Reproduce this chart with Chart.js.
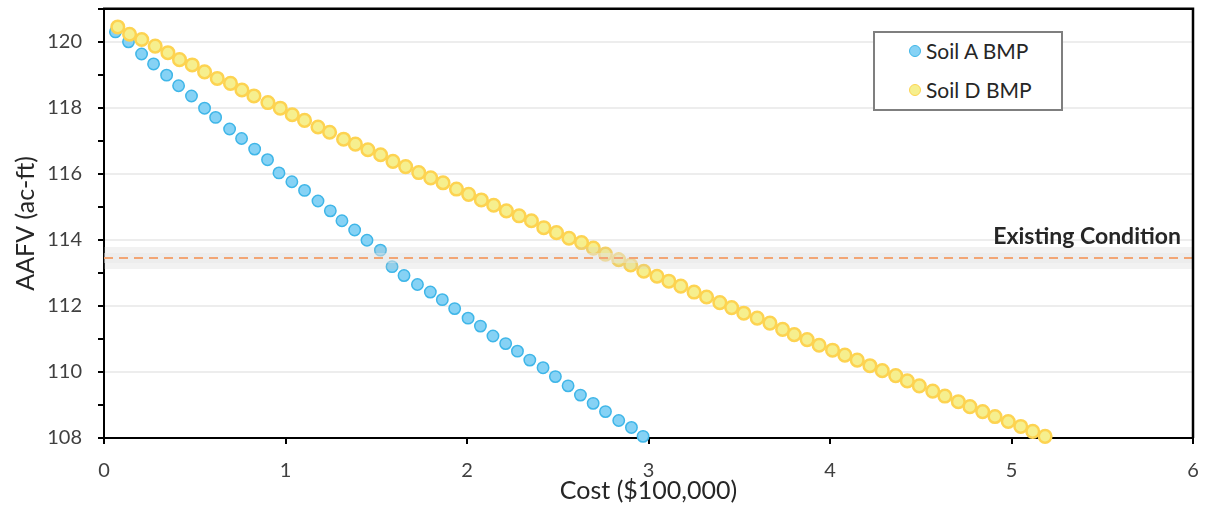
<!DOCTYPE html>
<html>
<head>
<meta charset="utf-8">
<script src="https://cdn.jsdelivr.net/npm/chart.js@4.4.1/dist/chart.umd.min.js"></script>
<style>
  body { margin:0; background:#fff; }
  #wrap { position:relative; width:1205px; height:517px; }
  #legend {
    position:absolute; left:873px; top:31px; width:186px; height:76px;
    border:2px solid #7f7f7f; background:#fff;
    font-family:Lato, sans-serif; font-size:21px; color:#262626;
  }
  .item { position:absolute; left:51px; height:24px; line-height:24px; }
  .dot { position:absolute; left:-17px; top:6px; width:10px; height:10px; border-radius:50%; }
</style>
</head>
<body>
<div id="wrap">
  <canvas id="chart"></canvas>
  <div id="legend"></div>
</div>
<script>
// ===== DATA =====
const seriesNames = ["Soil A BMP", "Soil D BMP"];

const soilACost = [0.063,0.135,0.207,0.273,0.345,0.411,0.482,0.554,0.615,0.692,
  0.758,0.830,0.901,0.964,1.035,1.105,1.179,1.247,1.311,1.381,
  1.449,1.523,1.587,1.653,1.727,1.798,1.864,1.932,2.006,2.074,
  2.143,2.213,2.278,2.346,2.419,2.487,2.557,2.625,2.695,2.763,
  2.836,2.906,2.970];
const soilAAafv = [120.30,120.00,119.63,119.33,118.99,118.67,118.36,117.99,117.71,117.36,
  117.07,116.75,116.43,116.03,115.76,115.50,115.18,114.88,114.58,114.30,
  113.99,113.69,113.19,112.92,112.65,112.42,112.19,111.92,111.63,111.39,
  111.09,110.86,110.63,110.36,110.13,109.86,109.58,109.30,109.05,108.80,
  108.53,108.32,108.05];

const soilDCost = [0.076,0.141,0.208,0.282,0.352,0.416,0.486,0.554,0.624,0.697,
  0.760,0.826,0.903,0.971,1.037,1.105,1.179,1.243,1.320,1.385,
  1.454,1.524,1.592,1.662,1.734,1.800,1.868,1.942,2.009,2.079,
  2.147,2.217,2.287,2.355,2.423,2.493,2.562,2.631,2.696,2.763,
  2.836,2.902,2.974,3.047,3.112,3.178,3.251,3.320,3.393,3.458,
  3.525,3.599,3.669,3.739,3.803,3.874,3.940,4.014,4.082,4.150,
  4.220,4.288,4.362,4.426,4.492,4.566,4.633,4.707,4.771,4.841,
  4.909,4.982,5.051,5.117,5.185];
const soilDAafv = [120.45,120.23,120.07,119.87,119.67,119.46,119.30,119.09,118.89,118.74,
  118.54,118.36,118.16,117.99,117.79,117.62,117.42,117.26,117.05,116.90,
  116.73,116.58,116.38,116.22,116.04,115.88,115.73,115.54,115.38,115.21,
  115.05,114.88,114.73,114.58,114.37,114.22,114.05,113.92,113.75,113.57,
  113.40,113.24,113.05,112.90,112.75,112.60,112.42,112.27,112.10,111.95,
  111.78,111.63,111.48,111.29,111.13,110.98,110.81,110.66,110.51,110.36,
  110.19,110.04,109.89,109.73,109.58,109.42,109.27,109.10,108.95,108.80,
  108.65,108.50,108.35,108.20,108.05];

const existingLabel = "Existing Condition";
const existingValue = 113.45;
const xRange = [0, 6];
const yRange = [108, 121];

const FONT = "Lato, sans-serif";
const blueFill = "#86d2f5", blueEdge = "#3fb6e8";
const yellowFill = "#f6ef8e", yellowEdge = "#fdd351";

function pts(xs, ys){ return xs.map((x,i)=>({x:x, y:ys[i]})); }

// ===== LEGEND (html box inside plot) =====
const legend = document.getElementById("legend");
[[blueFill,blueEdge],[yellowFill,yellowEdge]].forEach((c,i)=>{
  let d = document.createElement("div");
  d.className = "item";
  d.style.top = (i===0 ? 6 : 45) + "px";
  d.innerHTML = `<span class="dot" style="background:${c[0]};border:1.5px solid ${c[1]}"></span>${seriesNames[i]}`;
  legend.appendChild(d);
});

// ===== PLUGINS =====
const framePlugin = {
  id:"frame",
  afterDraw(chart){
    const a = chart.chartArea, ctx = chart.ctx;
    ctx.save();
    ctx.strokeStyle = "#000";
    ctx.lineWidth = 2.5;
    ctx.beginPath();
    ctx.moveTo(a.left-1, a.top);
    ctx.lineTo(a.right, a.top);
    ctx.lineTo(a.right, a.bottom);
    ctx.stroke();
    ctx.restore();
  }
};

const labelPlugin = {
  id:"existingLabel",
  afterDatasetsDraw(chart){
    const ctx = chart.ctx;
    const x = chart.scales.x.getPixelForValue(xRange[1]) - 12;
    const y = chart.scales.y.getPixelForValue(existingValue) - 21;
    ctx.save();
    ctx.font = "bold 23px " + FONT;
    ctx.fillStyle = "#262626";
    ctx.textAlign = "right";
    ctx.textBaseline = "middle";
    ctx.fillText(existingLabel, x, y);
    ctx.restore();
  }
};

// ===== CHART =====
const ctx = document.getElementById("chart").getContext("2d");
const flat = [{x:xRange[0], y:existingValue},{x:xRange[1], y:existingValue}];

new Chart(ctx, {
  type:"scatter",
  data:{
    datasets:[
      {label:seriesNames[0], data:pts(soilACost, soilAAafv), order:4, clip:false,
       pointRadius:5.7, pointBackgroundColor:blueFill, pointBorderColor:blueEdge, pointBorderWidth:1.5},
      {label:seriesNames[1], data:pts(soilDCost, soilDAafv), order:3, clip:false,
       pointRadius:6.3, pointBackgroundColor:yellowFill, pointBorderColor:yellowEdge, pointBorderWidth:2.5},
      {label:"glow", data:flat, showLine:true, pointRadius:0, order:2,
       borderColor:"rgba(195,195,195,0.22)", borderWidth:22},
      {label:"glow2", data:flat, showLine:true, pointRadius:0, order:2,
       borderColor:"rgba(240,240,240,0.45)", borderWidth:10},
      {label:existingLabel, data:flat, showLine:true, pointRadius:0, order:1,
       borderColor:"#f2a574", borderWidth:2, borderDash:[9,6]}
    ]
  },
  options:{
    responsive:true,
    maintainAspectRatio:false,
    animation:false,
    layout:{padding:{left:0, top:8, right:12, bottom:0}},
    plugins:{legend:{display:false}, tooltip:{enabled:false}},
    scales:{
      x:{
        type:"linear", min:xRange[0], max:xRange[1],
        afterFit(s){ s.height = 79; s.paddingLeft = 0; s.paddingRight = 0; },
        border:{color:"#000", width:2},
        grid:{drawOnChartArea:false, tickColor:"#000", tickLength:6, lineWidth:2},
        ticks:{stepSize:1, padding:15, color:"#404040", font:{family:FONT, size:20}},
        title:{display:true, text:"Cost ($100,000)", color:"#262626",
               font:{family:FONT, size:25}, padding:{top:0, bottom:11}}
      },
      y:{
        type:"linear", min:yRange[0], max:yRange[1],
        afterFit(s){ s.width = 104; s.paddingTop = 0; s.paddingBottom = 0; },
        border:{color:"#000", width:2},
        grid:{
          color:(c)=> c.tick && c.tick.value%2===0 ? "#ededed" : "rgba(0,0,0,0)",
          tickColor:"#000", tickLength:6, lineWidth:2
        },
        ticks:{stepSize:1, padding:16, color:"#404040", font:{family:FONT, size:20},
               callback:(v)=> v%2===0 ? v : ""},
        title:{display:true, text:"AAFV (ac-ft)", color:"#262626",
               font:{family:FONT, size:25}, padding:{top:11, bottom:0}}
      }
    }
  },
  plugins:[framePlugin, labelPlugin]
});
</script>
</body>
</html>
